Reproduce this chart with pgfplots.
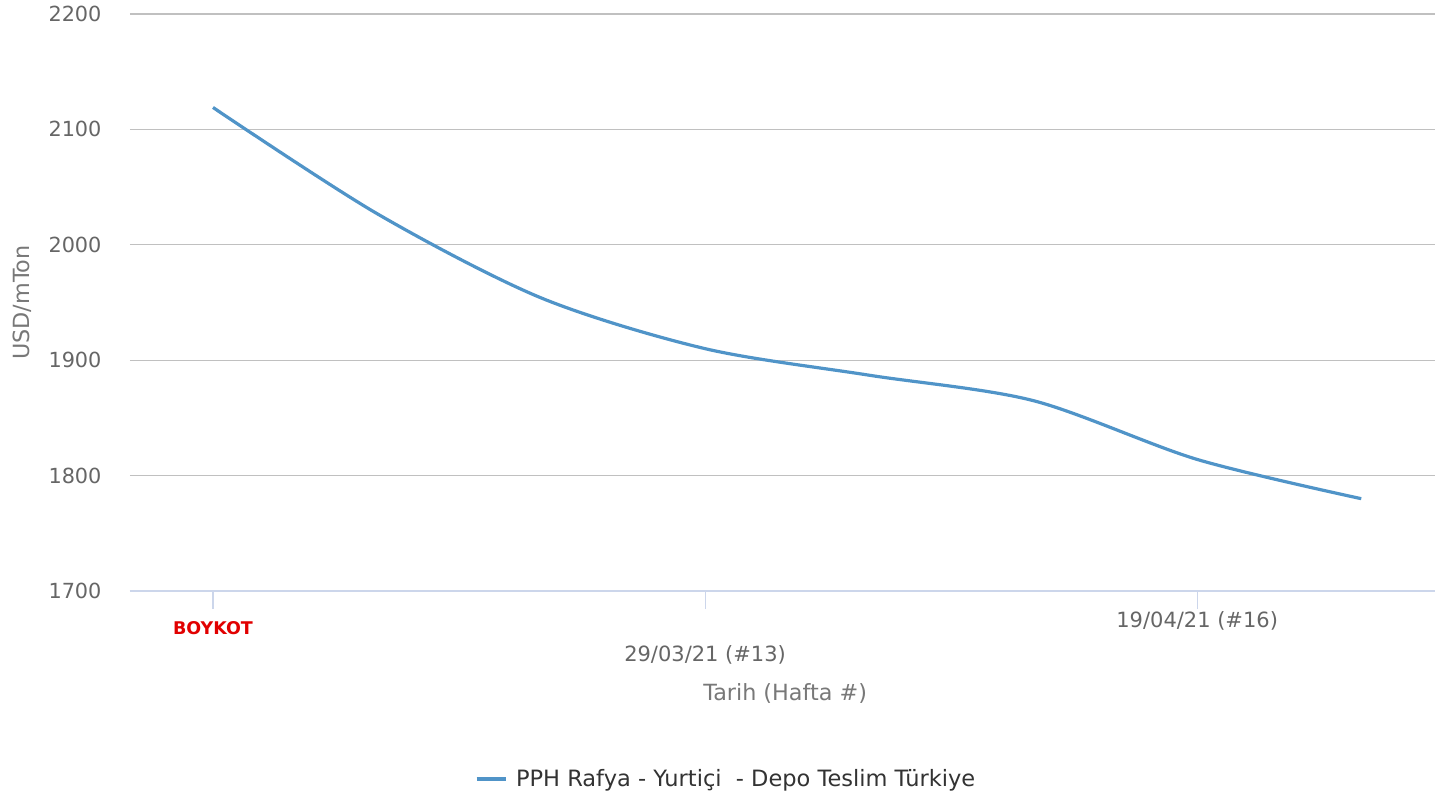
\documentclass[border=0pt]{standalone}
\usepackage{fontspec}
\setmainfont{DejaVu Sans}
\usepackage{pgfplots}
\pgfplotsset{compat=1.18}

\definecolor{seriesblue}{RGB}{80,148,200}
\definecolor{tickgray}{RGB}{102,102,102}
\definecolor{titlegray}{RGB}{120,120,120}
\definecolor{legendgray}{RGB}{51,51,51}
\definecolor{axisline}{RGB}{204,214,235}
\definecolor{gridgray}{RGB}{192,192,192}
\definecolor{boykotred}{RGB}{225,0,0}

\begin{document}
\begin{tikzpicture}
\useasboundingbox (-130pt,-207pt) rectangle (1305pt,591pt);
\begin{axis}[
  at={(0pt,0pt)}, anchor=south west,
  width=1305pt, height=577pt, scale only axis,
  xmin=-0.506, xmax=7.45,
  ymin=1700, ymax=2200,
  ytick={1700,1800,...,2200},
  xtick={0,3,6},
  xticklabels={,,},
  axis x line*=bottom,
  axis y line*=left,
  y axis line style={draw=none},
  x axis line style={axisline, line width=1.3pt},
  ytick style={draw=none},
  xtick style={axisline, line width=1.2pt},
  major tick length=18pt,
  tick align=outside,
  ymajorgrids,
  major grid style={gridgray, line width=1.3pt},
  /pgf/number format/assume math mode=true,
  /pgf/number format/1000 sep={},
  yticklabel style={font=\fontsize{20.8}{24}\selectfont, text=tickgray, anchor=east, xshift=-7pt},
  xlabel={Tarih (Hafta \#)},
  ylabel={USD/mTon},
  every axis x label/.style={at={(axis description cs:0.502,-0.1768)}, anchor=center,
    font=\fontsize{22.3}{26}\selectfont, text=titlegray},
  every axis y label/.style={at={(axis description cs:-0.0828,0.5)}, rotate=90, anchor=center,
    font=\fontsize{22.3}{26}\selectfont, text=titlegray},
  legend style={at={(axis description cs:0.4567,-0.3258)}, anchor=center, draw=none,
    font=\fontsize{22.5}{26}\selectfont, text=legendgray, inner sep=0pt},
  legend image code/.code={\draw[#1, line width=3.5pt] (0pt,0pt) -- (29pt,0pt);\path (36pt,0pt);},
  clip=false,
]
\addplot[seriesblue, line width=3.2pt, smooth, tension=0.5] coordinates {
  (0,2119) (1,2027) (2,1954) (3,1910) (4,1887) (5,1865) (6,1814) (7,1780)
};
\addlegendentry{PPH Rafya - Yurtiçi\ \ - Depo Teslim Türkiye}
\node[font=\fontsize{17.5}{20}\selectfont\bfseries, text=boykotred, yshift=-37pt] at (axis cs:0,1700) {BOYKOT};
\node[font=\fontsize{21}{24}\selectfont, text=tickgray, yshift=-64pt] at (axis cs:3,1700) {29/03/21 (\#13)};
\node[font=\fontsize{21}{24}\selectfont, text=tickgray, yshift=-30pt] at (axis cs:6,1700) {19/04/21 (\#16)};
\end{axis}
\end{tikzpicture}
\end{document}
